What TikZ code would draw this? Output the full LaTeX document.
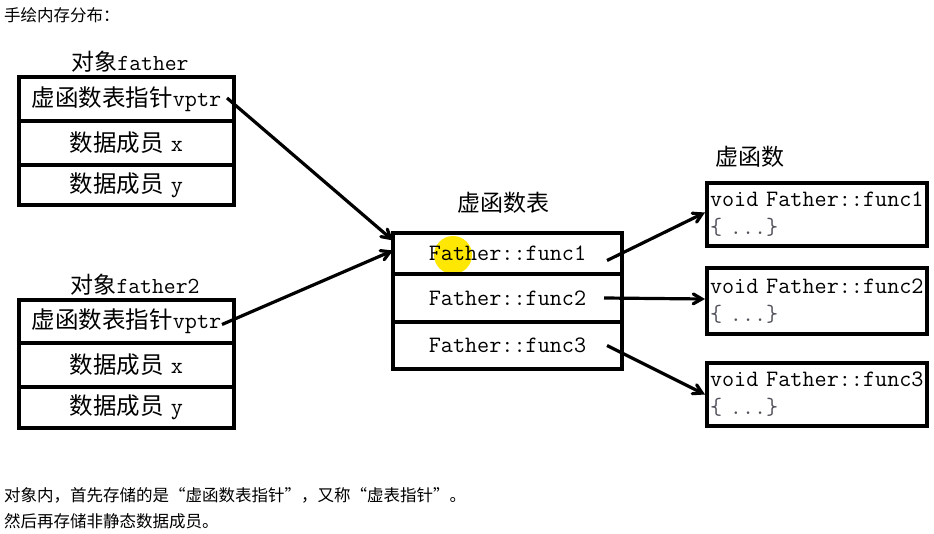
\documentclass[tikz,border=0pt]{standalone}
\usepackage{fontspec}
\newfontfamily\cjk{Noto Sans CJK SC}
\usetikzlibrary{arrows}
\definecolor{bracegray}{RGB}{80,80,90}

\begin{document}
\begin{tikzpicture}[x=1pt,y=-1pt,
  cell/.style={draw, line width=3.5pt, anchor=north west, outer sep=0pt,
    inner sep=0pt, font=\fontsize{23.5}{28}\selectfont},
  title/.style={inner sep=0pt, font=\fontsize{23}{27}\selectfont},
  note/.style={inner sep=0pt, anchor=west, align=left,
    font=\fontsize{16.5}{26}\selectfont\cjk},
  link/.style={->,>=angle 60, line width=3.2pt}]
\useasboundingbox (0,0) rectangle (934,534);

\node[note] (5) at (4,15) {手绘内存分布：};

% object father
\node[title] (1) at (130,62) {{\cjk 对象}\ttfamily father};
\node[cell, minimum width=215pt, minimum height=44pt] (11) at (19,77)
{{\cjk 虚函数表指针}\ttfamily vptr};
\node[cell, minimum width=215pt, minimum height=44pt] (12) at (19,121)
{{\cjk 数据成员} \ttfamily x};
\node[cell, minimum width=215pt, minimum height=40pt] (13) at (19,165)
{{\cjk 数据成员} \ttfamily y};

% object father2
\node[title] (2) at (135,285) {{\cjk 对象}\ttfamily father2};
\node[cell, minimum width=215pt, minimum height=43pt] (21) at (19,300)
{{\cjk 虚函数表指针}\ttfamily vptr};
\node[cell, minimum width=215pt, minimum height=44pt] (22) at (19,343)
{{\cjk 数据成员} \ttfamily x};
\node[cell, minimum width=215pt, minimum height=41pt] (23) at (19,387)
{{\cjk 数据成员} \ttfamily y};

% table
\node[title] (3) at (503,203) {\cjk 虚函数表};
\fill[yellow!90!orange] (453,255) circle (19);
\node[cell, minimum width=229pt, minimum height=41pt] (31) at (393,233)
{\ttfamily Father::func1};
\node[cell, minimum width=229pt, minimum height=48pt] (32) at (393,274)
{\ttfamily Father::func2};
\node[cell, minimum width=229pt, minimum height=47pt] (33) at (393,322)
{\ttfamily Father::func3};

% functions
\node[title, anchor=west] (4) at (715,157) {\cjk 虚函数};
\node[cell, minimum width=220pt, minimum height=63pt, align=left,
  text width=214pt, inner xsep=3pt] (41) at (707,183)
{\ttfamily void Father::func1\\\color{bracegray}\ttfamily\{ ...\}};
\node[cell, minimum width=220pt, minimum height=66pt, align=left,
  text width=214pt, inner xsep=3pt] (42) at (707,268)
{\ttfamily void Father::func2\\\color{bracegray}\ttfamily\{ ...\}};
\node[cell, minimum width=220pt, minimum height=63pt, align=left,
  text width=214pt, inner xsep=3pt] (43) at (707,363)
{\ttfamily void Father::func3\\\color{bracegray}\ttfamily\{ ...\}};

\draw[link] ([xshift=-7pt,yshift=1pt]11.east) -- ([yshift=13pt]31.west);
\draw[link] ([xshift=-12pt,yshift=-3pt]21.east) -- ([yshift=3pt]31.west);
\draw[link] ([xshift=-15pt,yshift=-7pt]31.east) -- ([xshift=-2pt,yshift=2pt]41.west);
\draw[link] ([xshift=-18pt]32.east) -- ([xshift=-2pt,yshift=2pt]42.west);
\draw[link] ([xshift=-15pt]33.east) -- ([xshift=-2pt]43.west);

\node[note] (6) at (4,508)
{对象内，首先存储的是“虚函数表指针”，又称“虚表指针”。\\然后再存储非静态数据成员。};
\end{tikzpicture}
\end{document}
